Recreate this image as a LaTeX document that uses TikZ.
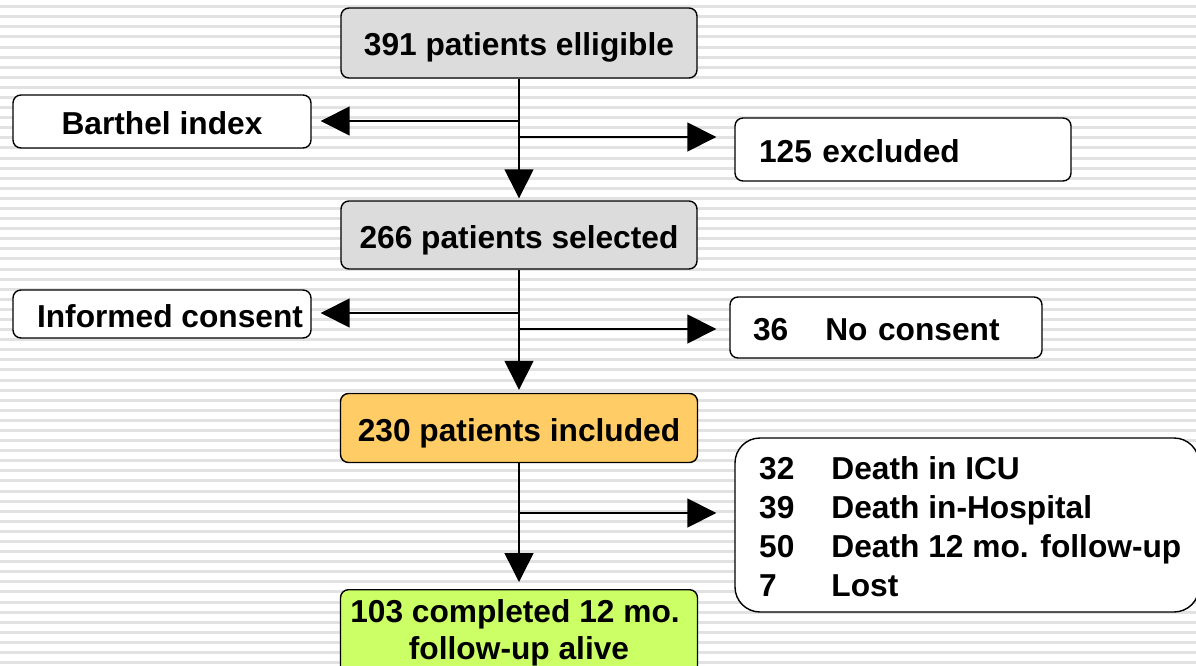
\documentclass[tikz,border=0pt]{standalone}
\usepackage{fontspec}
\setmainfont{Liberation Sans}
\usetikzlibrary{arrows.meta}
\definecolor{boxgray}{HTML}{DCDCDC}
\definecolor{boxorange}{HTML}{FFCC66}
\definecolor{boxgreen}{HTML}{CCFF66}
\definecolor{stripe}{HTML}{E2E2E2}
\tikzset{
  flowbox/.style={draw=black, line width=1.4pt, rounded corners=8pt, inner sep=0pt,
    font=\fontsize{31.7}{37}\selectfont\bfseries, align=center,
    text height=26pt, text depth=0pt},
  arr/.style={line width=1.5pt, -{Triangle[length=29pt,width=29pt]}},
}
\begin{document}
\begin{tikzpicture}[x=1pt,y=-1pt]
\useasboundingbox (0,0) rectangle (1196,666);
\begin{scope}
\clip (0,0) rectangle (1196,666);
\fill[white] (0,0) rectangle (1196,666);
\foreach \k in {0,...,65}{
  \fill[stripe] (0,{5.2+\k*10.09}) rectangle (1196,{8.2+\k*10.09});
}
% boxes
\node[flowbox, fill=boxgray, minimum width=356pt, minimum height=70pt] (elig) at (519,43) {391 patients elligible};
\node[flowbox, fill=white, minimum width=298pt, minimum height=53pt] (barthel) at (162,121.5) {Barthel index};
\node[flowbox, fill=white, minimum width=336pt, minimum height=63pt, text width=336pt, align=left] (excl) at (903,149.5) {\hspace*{24pt}125 excluded};
\node[flowbox, fill=boxgray, minimum width=356pt, minimum height=68pt] (sel) at (519,235) {266 patients selected};
\node[flowbox, fill=white, minimum width=298pt, minimum height=48pt] (consent) at (162,314) {\hspace*{16pt}Informed consent};
\node[flowbox, fill=white, minimum width=312pt, minimum height=61pt, text width=312pt, align=left] (nocons) at (886,327.5) {\hspace*{23pt}36\hspace{37pt}No consent};
\node[flowbox, fill=boxorange, minimum width=357pt, minimum height=69pt] (incl) at (519,428) {230 patients included};
\node[flowbox, fill=white, rounded corners=25pt, minimum width=464pt, minimum height=174pt] (loss) at (967,525) {};
\node[font=\fontsize{31.7}{38.5}\selectfont\bfseries, anchor=west, inner sep=0pt] (losstext) at (759,530)
  {\begin{tabular}{@{}l@{\hspace{37pt}}l@{}}32 & Death in ICU\\[0.5pt] 39 & Death in-Hospital\\[0.5pt] 50 & Death 12 mo. follow-up\\[0.5pt] 7 & Lost\end{tabular}};
\node[flowbox, fill=boxgreen, minimum width=357pt, minimum height=100pt, anchor=north] (done) at (519,589) {};
\node[font=\fontsize{31.7}{37}\selectfont\bfseries, align=center, inner sep=0pt] (donetext) at (515,633) {103 completed 12 mo.\\\hspace*{8pt}follow-up alive};
% connectors
\coordinate (j1) at (519,121);
\coordinate (j2) at (519,137);
\coordinate (j3) at (519,313);
\coordinate (j4) at (519,329);
\coordinate (j5) at (519,513);
\draw[arr, shorten >=2pt] (elig.south) -- (sel.north);
\draw[arr, shorten >=9pt] (j1) -- (barthel.east |- j1);
\draw[arr, shorten >=18pt] (j2) -- (excl.west |- j2);
\draw[arr, shorten >=3pt] (sel.south) -- (incl.north);
\draw[arr, shorten >=9pt] (j3) -- (consent.east |- j3);
\draw[arr, shorten >=13pt] (j4) -- (nocons.west |- j4);
\draw[arr, shorten >=7pt] (incl.south) -- (done.north);
\draw[arr, shorten >=18pt] (j5) -- (loss.west |- j5);
\end{scope}
\end{tikzpicture}
\end{document}
